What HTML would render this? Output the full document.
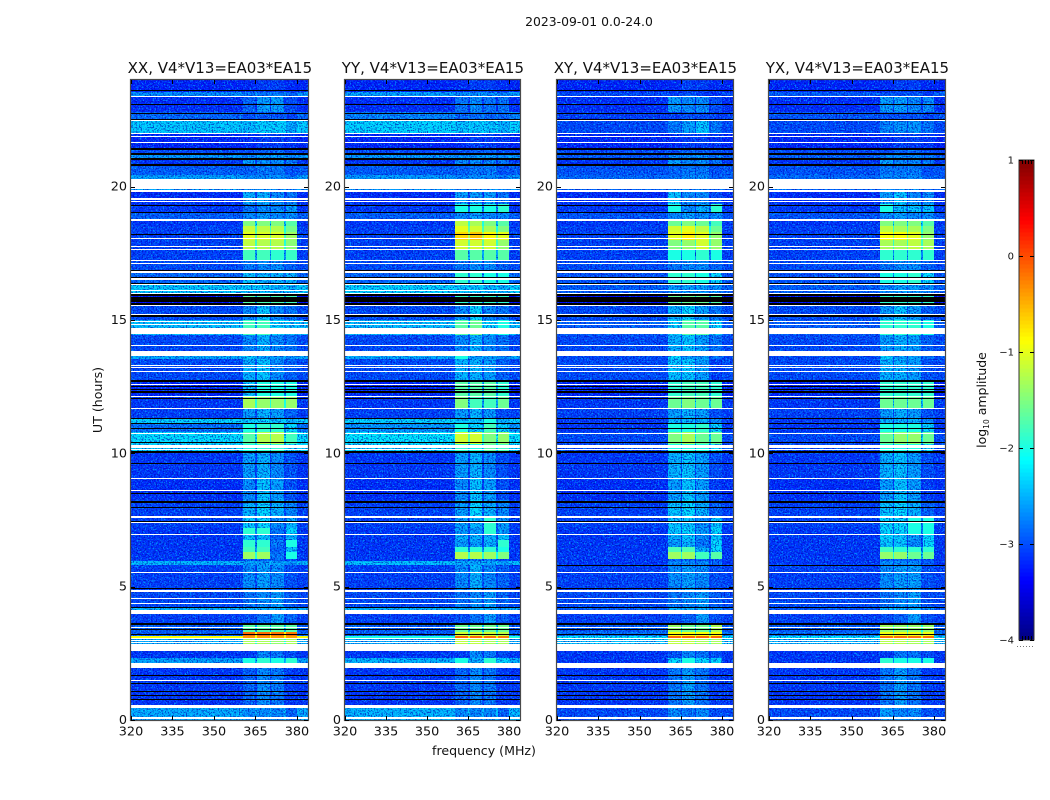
<!DOCTYPE html>
<html lang="en">
<head>
<meta charset="utf-8">
<title>2023-09-01 0.0-24.0</title>
<style>
html,body{margin:0;padding:0;background:#fff;}
#chart{display:block;width:1050px;height:800px;}
text{font-family:"DejaVu Sans","Liberation Sans",sans-serif;fill:#111;}
</style>
</head>
<body>
<svg id="chart" xmlns="http://www.w3.org/2000/svg" width="1050" height="800" viewBox="0 0 1050 800">
  <defs>
    <filter id="speckle-light" x="0" y="0" width="1" height="1" color-interpolation-filters="sRGB">
      <feTurbulence type="fractalNoise" baseFrequency="0.62" numOctaves="2" seed="7"/>
      <feColorMatrix type="matrix" values="0 0 0 0 0  0 0 0 0 0.42  0 0 0 0 0  11 0 0 0 -6.1"/>
    </filter>
    <filter id="speckle-dark" x="0" y="0" width="1" height="1" color-interpolation-filters="sRGB">
      <feTurbulence type="fractalNoise" baseFrequency="0.66" numOctaves="2" seed="23"/>
      <feColorMatrix type="matrix" values="0 0 0 0 0  0 0 0 0 0  0 0 0 0 0.7  11 0 0 0 -5.9"/>
    </filter>
  </defs>
  <rect x="0" y="0" width="1050" height="800" fill="#fff"/>
  <text x="589" y="26" font-size="12.4" text-anchor="middle">2023-09-01 0.0-24.0</text>
  <g id="panels"></g>
  <text transform="translate(102,400) rotate(-90)" font-size="12.6" text-anchor="middle">UT (hours)</text>
  <text x="484" y="755" font-size="12.6" text-anchor="middle">frequency (MHz)</text>
  <g id="colorbar"></g>
  <text transform="translate(986,400) rotate(-90)" font-size="12.5" text-anchor="middle">log<tspan font-size="7.5" dy="3">10</tspan><tspan dy="-3"> amplitude</tspan></text>
</svg>
<script>
// ---- axis data ----
const freqTicks = [320, 335, 350, 365, 380];
const hourTicks = [0, 5, 10, 15, 20];
const colorTicks = [1, 0, -1, -2, -3, -4];
const panelTitles = ['XX, V4*V13=EA03*EA15', 'YY, V4*V13=EA03*EA15', 'XY, V4*V13=EA03*EA15', 'YX, V4*V13=EA03*EA15'];
const panelNames = ['xx', 'yy', 'xy', 'yx'];
// channel edges in MHz: background, subband, gap, subband, gap, subband, gap, subband, background
const freqEdges = [320, 360.4, 365, 365.6, 370.1, 370.7, 375.3, 375.9, 380, 384];
// top edge (UT hours) of each time band; the last band ends at 0 h
const bandTops = [24.00,23.55,23.40,22.80,22.46,22.01,21.45,21.22,21.07,20.81,20.44,19.89,19.35,19.05,18.71,18.52,18.30,18.00,17.62,17.21,16.84,16.39,16.01,15.60,15.00,14.44,13.69,13.54,12.75,12.15,11.70,11.29,11.10,10.80,10.35,10.09,9.07,8.25,7.57,7.20,6.97,6.75,6.50,6.30,6.04,5.96,5.81,4.80,4.24,3.97,3.56,3.30,3.15,3.07,2.59,2.32,1.95,0.45];
// log10 amplitude per band: [background, subband 1, 2, 3, 4]
const levelsXX = [
[-3.2,-3.0,-2.9,-2.9,-3.0],[-2.65,-2.6,-2.6,-2.6,-2.65],[-3.15,-2.7,-2.4,-2.4,-2.8],[-2.85,-2.8,-2.75,-2.8,-2.85],
[-2.35,-2.25,-2.15,-2.15,-2.35],[-3.2,-3.0,-2.9,-2.9,-2.95],[-3.0,-2.8,-2.7,-2.7,-2.8],[-2.6,-2.5,-2.4,-2.4,-2.5],
[-3.1,-2.4,-2.5,-2.5,-2.6],[-2.9,-2.7,-2.6,-2.6,-2.8],[-2.55,-2.5,-2.5,-2.5,-2.6],[-3.15,-2.3,-2.3,-2.5,-2.6],
[-3.1,-2.6,-2.5,-2.5,-2.4],[-2.9,-2.5,-2.4,-2.5,-2.5],[-3.1,-1.5,-1.5,-1.5,-1.7],[-3.05,-1.15,-1.2,-1.25,-1.55],
[-3.05,-1.0,-1.05,-1.05,-1.35],[-3.05,-1.2,-1.25,-1.25,-1.45],[-3.05,-1.8,-1.8,-1.9,-1.85],[-3.0,-2.6,-2.5,-2.5,-2.7],
[-2.85,-2.2,-2.3,-2.3,-2.3],[-2.35,-2.2,-2.2,-2.3,-2.3],[-3.3,-1.7,-1.75,-1.75,-1.8],[-3.0,-2.5,-2.2,-2.5,-2.6],
[-2.4,-1.8,-1.8,-2.1,-2.2],[-3.0,-2.5,-2.3,-2.5,-2.6],[-2.5,-2.15,-2.4,-2.4,-2.5],[-3.0,-2.3,-2.2,-2.5,-2.7],
[-3.2,-2.2,-2.0,-2.0,-2.0],[-3.1,-1.3,-1.4,-1.4,-1.4],[-3.05,-2.4,-2.3,-2.4,-2.7],[-2.3,-2.2,-2.1,-2.2,-2.3],
[-2.8,-2.0,-1.9,-1.9,-2.1],[-2.25,-1.7,-1.25,-1.25,-1.8],[-2.3,-2.0,-1.9,-1.9,-2.1],[-3.1,-2.4,-2.3,-2.5,-2.8],
[-3.15,-2.5,-2.2,-2.4,-2.8],[-3.05,-2.3,-2.1,-2.3,-2.5],[-3.05,-2.2,-2.1,-2.5,-2.3],[-3.1,-1.9,-1.9,-2.6,-2.1],
[-3.1,-2.2,-2.2,-2.7,-2.3],[-3.1,-1.9,-1.9,-2.6,-2.0],[-3.1,-1.8,-1.8,-2.7,-2.2],[-3.1,-1.35,-1.35,-2.6,-2.0],
[-3.1,-2.7,-2.7,-2.7,-2.8],[-2.45,-2.4,-2.4,-2.4,-2.45],[-3.05,-2.5,-2.4,-2.5,-2.8],[-3.0,-2.6,-2.5,-2.4,-2.7],
[-2.45,-2.3,-2.3,-2.3,-2.4],[-3.05,-2.8,-2.6,-2.4,-2.7],[-2.9,-1.7,-1.7,-1.7,-1.7],[-2.9,-0.15,-0.15,-0.2,-0.2],
[-0.9,-0.4,-0.4,-0.45,-0.45],[-2.5,-1.3,-1.3,-1.4,-1.3],[-3.1,-2.9,-2.5,-2.6,-2.8],[-2.55,-2.0,-1.9,-2.0,-1.9],
[-3.1,-2.7,-2.5,-2.6,-2.9],[-2.5,-2.5,-2.5,-2.5,-2.7]];
const levelsYY = [
[-3.2,-3.0,-2.9,-2.9,-3.0],[-2.55,-2.5,-2.5,-2.5,-2.55],[-3.15,-2.6,-2.5,-2.6,-2.6],[-2.7,-2.7,-2.65,-2.7,-2.7],
[-2.3,-2.2,-2.2,-2.2,-2.3],[-3.2,-3.0,-2.9,-2.9,-2.95],[-3.0,-2.8,-2.7,-2.7,-2.8],[-2.6,-2.5,-2.4,-2.4,-2.5],
[-3.1,-2.5,-2.5,-2.5,-2.6],[-2.9,-2.7,-2.6,-2.6,-2.8],[-2.6,-2.55,-2.5,-2.5,-2.6],[-3.15,-2.4,-2.4,-2.4,-2.6],
[-3.1,-2.0,-2.0,-2.0,-1.9],[-2.9,-2.5,-2.4,-2.5,-2.5],[-3.1,-1.2,-1.3,-1.5,-1.7],[-3.05,-1.0,-1.1,-1.3,-1.5],
[-3.05,-0.7,-0.6,-0.85,-1.0],[-3.05,-1.1,-1.1,-1.1,-1.4],[-3.05,-1.7,-1.7,-1.7,-1.7],[-3.0,-2.6,-2.5,-2.5,-2.7],
[-2.85,-1.9,-1.9,-2.0,-2.0],[-2.3,-2.2,-2.2,-2.3,-2.3],[-3.3,-1.9,-1.9,-1.9,-1.9],[-3.0,-2.5,-2.1,-2.5,-2.6],
[-2.4,-1.7,-1.6,-2.1,-2.0],[-3.0,-2.5,-2.3,-2.5,-2.6],[-2.5,-2.0,-2.4,-2.4,-2.5],[-3.0,-2.3,-2.3,-2.4,-2.7],
[-3.2,-1.7,-1.7,-1.7,-1.9],[-3.1,-1.5,-1.8,-1.8,-1.6],[-3.05,-2.4,-2.3,-2.4,-2.8],[-2.3,-2.2,-2.2,-2.0,-2.3],
[-2.6,-2.0,-2.1,-1.8,-2.1],[-2.2,-1.1,-1.1,-1.5,-1.4],[-2.3,-1.9,-2.0,-1.7,-1.8],[-3.1,-2.4,-2.3,-2.5,-2.8],
[-3.15,-2.5,-2.2,-2.4,-2.8],[-3.05,-2.4,-2.1,-2.3,-2.5],[-3.05,-2.4,-2.3,-1.9,-2.4],[-3.1,-2.4,-2.4,-1.9,-2.4],
[-3.1,-2.3,-2.3,-2.3,-2.2],[-3.1,-2.4,-2.4,-2.3,-1.9],[-3.1,-1.9,-1.9,-1.9,-2.0],[-3.1,-1.25,-1.25,-1.35,-1.5],
[-3.1,-2.6,-2.6,-2.6,-2.8],[-2.4,-2.35,-2.35,-2.35,-2.4],[-3.05,-2.5,-2.3,-2.5,-2.7],[-3.0,-2.6,-2.5,-2.4,-2.7],
[-2.45,-2.3,-2.3,-2.3,-2.4],[-3.05,-2.8,-2.6,-2.4,-2.7],[-2.9,-1.6,-1.6,-1.6,-1.6],[-2.9,-1.1,-1.1,-1.1,-1.2],
[-2.0,-0.15,-0.15,-0.2,-0.25],[-2.5,-1.2,-1.2,-1.3,-1.3],[-3.1,-2.9,-2.5,-2.6,-2.8],[-2.45,-2.0,-2.3,-1.9,-2.1],
[-3.1,-2.7,-2.5,-2.6,-2.9],[-2.45,-2.5,-2.5,-2.5,-2.7]];
const levelsXY = [
[-3.2,-3.0,-2.9,-2.9,-3.0],[-3.0,-2.9,-2.8,-2.9,-3.0],[-3.15,-2.4,-2.5,-2.5,-2.8],[-3.05,-2.9,-2.8,-2.8,-2.9],
[-3.0,-2.6,-2.4,-2.2,-2.6],[-3.2,-3.0,-2.9,-2.9,-2.95],[-3.0,-2.8,-2.7,-2.7,-2.8],[-2.9,-2.5,-2.5,-2.5,-2.6],
[-3.1,-2.4,-2.5,-2.5,-2.6],[-2.95,-2.7,-2.6,-2.6,-2.8],[-2.85,-2.6,-2.5,-2.5,-2.7],[-3.15,-2.2,-2.5,-2.5,-2.8],
[-3.1,-2.0,-2.5,-2.3,-1.9],[-2.95,-2.5,-2.4,-2.5,-2.5],[-3.1,-1.6,-1.5,-1.6,-1.8],[-3.05,-1.1,-1.0,-1.2,-1.6],
[-3.05,-1.0,-0.8,-1.0,-1.4],[-3.05,-1.5,-1.4,-1.1,-1.4],[-3.05,-2.0,-2.0,-1.9,-2.0],[-3.0,-2.6,-2.5,-2.5,-2.7],
[-2.95,-1.9,-1.9,-2.0,-2.1],[-2.9,-2.4,-2.4,-2.4,-2.5],[-3.3,-1.6,-1.6,-1.6,-1.7],[-3.0,-2.3,-2.1,-2.4,-2.6],
[-2.9,-2.1,-1.7,-1.7,-2.1],[-3.0,-2.3,-2.2,-2.4,-2.6],[-3.0,-2.1,-2.4,-2.4,-2.6],[-3.0,-2.2,-2.2,-2.4,-2.9],
[-3.2,-1.9,-1.8,-1.8,-1.9],[-3.1,-1.6,-1.5,-1.6,-1.6],[-3.05,-2.4,-2.3,-2.4,-2.8],[-3.1,-2.3,-2.3,-2.3,-2.5],
[-3.1,-2.0,-2.0,-1.9,-2.1],[-3.0,-1.5,-1.3,-1.6,-1.6],[-3.0,-2.0,-2.0,-2.0,-2.1],[-3.1,-2.3,-2.2,-2.4,-2.8],
[-3.15,-2.4,-2.2,-2.4,-2.9],[-3.05,-2.2,-2.1,-2.3,-2.7],[-3.05,-2.2,-2.2,-2.5,-2.2],[-3.1,-2.2,-2.1,-2.4,-2.1],
[-3.1,-2.3,-2.2,-2.5,-2.2],[-3.1,-2.4,-2.3,-2.6,-2.1],[-3.1,-1.75,-1.75,-2.3,-2.1],[-3.1,-1.35,-1.35,-1.8,-1.7],
[-3.1,-2.7,-2.7,-2.7,-2.8],[-3.1,-2.5,-2.5,-2.5,-2.7],[-3.05,-2.5,-2.4,-2.5,-2.8],[-3.0,-2.6,-2.5,-2.4,-2.7],
[-2.9,-2.3,-2.3,-2.3,-2.5],[-3.05,-2.8,-2.7,-2.4,-2.8],[-2.9,-1.4,-1.6,-1.6,-1.3],[-2.8,-0.9,-0.9,-0.9,-0.9],
[-2.2,-0.15,-0.15,-0.15,-0.15],[-2.4,-1.2,-1.2,-1.3,-1.3],[-3.1,-2.8,-2.5,-2.6,-2.8],[-3.1,-2.1,-2.0,-2.1,-2.1],
[-3.1,-2.6,-2.4,-2.6,-2.9],[-3.0,-2.5,-2.6,-2.5,-2.8]];
const levelsYX = [
[-3.2,-3.0,-2.9,-2.9,-3.0],[-2.9,-2.8,-2.8,-2.8,-2.9],[-3.15,-2.4,-2.4,-2.5,-2.5],[-2.95,-2.8,-2.8,-2.8,-2.9],
[-3.0,-2.55,-2.45,-2.45,-2.6],[-3.2,-3.0,-2.9,-2.9,-2.95],[-3.0,-2.8,-2.7,-2.7,-2.8],[-2.9,-2.5,-2.5,-2.5,-2.6],
[-3.1,-2.4,-2.5,-2.5,-2.6],[-2.95,-2.6,-2.6,-2.6,-2.8],[-2.85,-2.5,-2.5,-2.5,-2.7],[-3.15,-2.4,-2.2,-2.5,-2.5],
[-3.1,-2.0,-2.2,-2.2,-2.2],[-2.95,-2.5,-2.4,-2.5,-2.5],[-3.1,-1.5,-1.5,-1.5,-1.7],[-3.05,-1.2,-1.3,-1.3,-1.5],
[-3.05,-0.9,-0.9,-1.0,-1.4],[-3.05,-1.3,-1.3,-1.2,-1.3],[-3.05,-1.9,-1.9,-1.9,-1.9],[-3.0,-2.6,-2.5,-2.5,-2.7],
[-2.95,-2.0,-2.0,-1.9,-2.1],[-2.9,-2.5,-2.4,-2.4,-2.5],[-3.3,-1.9,-1.9,-1.9,-1.9],[-3.0,-2.4,-2.2,-2.4,-2.7],
[-2.9,-1.9,-1.9,-1.9,-2.0],[-3.0,-2.4,-2.3,-2.4,-2.7],[-3.0,-2.1,-2.4,-2.4,-2.6],[-3.0,-2.3,-2.3,-2.4,-2.8],
[-3.2,-1.9,-1.9,-1.9,-1.9],[-3.1,-1.6,-1.6,-1.6,-1.6],[-3.05,-2.4,-2.3,-2.4,-2.8],[-3.1,-2.3,-2.3,-2.3,-2.5],
[-3.1,-2.0,-2.0,-2.0,-2.1],[-3.0,-1.6,-1.4,-1.4,-1.6],[-3.0,-2.0,-2.0,-2.0,-2.1],[-3.1,-2.3,-2.2,-2.4,-2.8],
[-3.15,-2.4,-2.2,-2.4,-2.9],[-3.05,-2.2,-2.1,-2.3,-2.7],[-3.05,-2.1,-2.1,-2.0,-2.0],[-3.1,-2.1,-2.1,-2.0,-2.0],
[-3.1,-2.1,-2.2,-2.4,-2.1],[-3.1,-2.2,-2.2,-2.5,-2.1],[-3.1,-1.8,-1.9,-1.9,-1.9],[-3.1,-1.4,-1.4,-1.6,-1.6],
[-3.1,-2.7,-2.7,-2.7,-2.8],[-3.1,-2.5,-2.5,-2.5,-2.7],[-3.05,-2.5,-2.4,-2.4,-2.8],[-3.0,-2.6,-2.5,-2.4,-2.8],
[-2.95,-2.3,-2.3,-2.3,-2.5],[-3.05,-2.8,-2.7,-2.4,-2.8],[-2.9,-1.35,-1.4,-1.4,-1.4],[-2.8,-0.95,-0.95,-0.95,-0.95],
[-2.2,-0.2,-0.2,-0.2,-0.2],[-2.45,-1.25,-1.25,-1.3,-1.3],[-3.1,-2.9,-2.6,-2.6,-2.8],[-3.1,-1.9,-2.0,-2.0,-2.0],
[-3.1,-2.6,-2.4,-2.6,-2.9],[-3.0,-2.4,-2.5,-2.5,-2.8]];
const panelLevels = [levelsXX, levelsYY, levelsXY, levelsYX];
// flagged (blank) time ranges [start, end] in UT hours
const flaggedRanges = [[23.40,23.36],[22.50,22.46],[22.01,21.98],[21.90,21.86],[21.68,21.64],[20.27,19.89],[19.86,19.78],[19.58,19.51],[19.48,19.44],[18.77,18.71],[18.09,18.04],[17.79,17.74],[17.66,17.62],[17.25,17.20],[17.14,17.09],[16.82,16.74],[16.58,16.50],[16.36,16.31],[16.14,16.10],[16.03,15.99],[15.56,15.52],[15.21,15.17],[14.96,14.92],[14.85,14.81],[14.71,14.50],[14.06,14.02],[13.85,13.68],[13.33,13.29],[13.24,13.20],[13.10,13.06],[12.60,12.56],[12.15,12.11],[11.70,11.66],[10.78,10.75],[10.32,10.20],[10.16,10.12],[9.07,9.04],[8.64,8.61],[7.65,7.59],[7.44,7.40],[6.99,6.96],[5.55,5.51],[4.89,4.81],[4.56,4.52],[4.40,4.35],[4.13,3.97],[3.47,3.43],[3.06,3.02],[3.00,2.96],[2.92,2.89],[2.85,2.60],[2.15,1.97],[1.50,1.46],[0.56,0.45],[0.10,0.02]];
// dropped (zero amplitude) time ranges [start, end] in UT hours
const dropoutRanges = [[23.64,23.61],[23.10,23.06],[22.78,22.73],[22.54,22.50],[21.46,21.40],[21.25,21.19],[21.06,21.00],[20.85,20.79],[19.32,19.30],[19.06,19.02],[18.24,18.21],[16.89,16.82],[16.62,16.58],[16.40,16.36],[15.99,15.92],[15.88,15.82],[15.79,15.73],[15.71,15.66],[15.64,15.58],[15.17,15.09],[12.75,12.68],[12.52,12.49],[12.43,12.40],[12.32,12.26],[12.09,12.06],[11.31,11.28],[11.12,11.09],[10.95,10.91],[10.43,10.39],[10.09,10.02],[9.64,9.60],[8.53,8.50],[8.21,8.15],[7.97,7.94],[7.46,7.44],[4.96,4.92],[4.24,4.21],[3.65,3.59],[3.43,3.40],[3.23,3.19],[1.97,1.94],[1.69,1.65],[1.37,1.34],[1.09,1.06],[0.94,0.91],[0.78,0.75]];
// extra dropouts seen only in the cross-hand panels
const crossDropoutRanges = [[5.81,5.78]];

// ---- layout ----
const frames = [{l:131,r:308},{l:345,r:520},{l:557,r:733},{l:769,r:945}];
const plotTop = 80, plotBottom = 720;
const hourMax = 24, freqMin = 320, freqMax = 384;
const barLeft = 1019, barRight = 1034, barTop = 160, barBottom = 640;
const levelMin = -4, levelMax = 1;
const solidThreshold = -2.05;
const svgNS = 'http://www.w3.org/2000/svg';

function yScale(h){ return plotBottom - (h / hourMax) * (plotBottom - plotTop); }
function xScale(frame, f){ return frame.l + (f - freqMin) / (freqMax - freqMin) * (frame.r - frame.l); }
function levelScale(v){ return barBottom - (v - levelMin) / (levelMax - levelMin) * (barBottom - barTop); }
function clip01(v){ return Math.max(0, Math.min(1, v)); }
function jet(v){
  const t = clip01((v - levelMin) / (levelMax - levelMin));
  const r = clip01(1.5 - Math.abs(4 * t - 3));
  const g = clip01(1.5 - Math.abs(4 * t - 2));
  const b = clip01(1.5 - Math.abs(4 * t - 1));
  return 'rgb(' + Math.round(r * 255) + ',' + Math.round(g * 255) + ',' + Math.round(b * 255) + ')';
}
function make(tag, parent, geometry){
  const el = document.createElementNS(svgNS, tag);
  for (const k in geometry) el.setAttribute(k, geometry[k]);
  parent.appendChild(el);
  return el;
}
function meanSpeckled(v){ return v < solidThreshold ? v - 0.2 : v; }
function channelLevel(row, col){
  const bg = row[0];
  if (col === 0 || col === 8) return bg < solidThreshold ? bg - 0.03 : bg;
  if (col % 2 === 1) return meanSpeckled(row[(col + 1) / 2]);
  const left = row[col / 2], right = row[col / 2 + 1];
  return Math.max(bg, meanSpeckled((left + right) / 2 - 0.6));
}

const panelsGroup = document.getElementById('panels');
frames.forEach(function(frame, p){
  const name = panelNames[p];
  const g = make('g', panelsGroup, {});
  
  

  const cells = make('g', g, {'shape-rendering': 'crispEdges'});
  
  

  const light = make('rect', g, {x: frame.l, y: plotTop, width: frame.r - frame.l, height: plotBottom - plotTop, filter: 'url(#speckle-light)', style: 'mix-blend-mode:screen'});
  
  
  const dark = make('rect', g, {x: frame.l, y: plotTop, width: frame.r - frame.l, height: plotBottom - plotTop, filter: 'url(#speckle-dark)', opacity: 0.6});
  
  

  const solid = make('g', g, {'shape-rendering': 'crispEdges'});
  
  

  const levels = panelLevels[p];
  bandTops.forEach(function(top, b){
    const bottom = b + 1 < bandTops.length ? bandTops[b + 1] : 0;
    const y0 = Math.round(yScale(top)), y1 = Math.round(yScale(bottom));
    for (let c = 0; c < freqEdges.length - 1; c++){
      const x0 = Math.round(xScale(frame, freqEdges[c])), x1 = Math.round(xScale(frame, freqEdges[c + 1]));
      const level = channelLevel(levels[b], c);
      const layer = level > solidThreshold ? solid : cells;
      const cell = make('rect', layer, {x: x0, y: y0, width: x1 - x0, height: y1 - y0, fill: jet(level)});
      
      
    }
  });

  const marks = make('g', g, {'shape-rendering': 'crispEdges'});
  
  
  let drops = dropoutRanges;
  if (p >= 2) drops = dropoutRanges.concat(crossDropoutRanges);
  drops.forEach(function(range){
    const row = make('rect', marks, {x: frame.l, y: Math.round(yScale(range[0])), width: frame.r - frame.l, height: Math.max(1, Math.round(yScale(range[1]) - yScale(range[0]))), fill: '#000'});
    
    
  });
  flaggedRanges.forEach(function(range){
    const row = make('rect', marks, {x: frame.l, y: Math.round(yScale(range[0])), width: frame.r - frame.l, height: Math.max(1, Math.round(yScale(range[1]) - yScale(range[0]))), fill: '#fff'});
    
    
  });

  const box = make('rect', g, {x: frame.l - 0.5, y: plotTop - 0.5, width: frame.r - frame.l + 1, height: plotBottom - plotTop + 1, fill: 'none', stroke: '#4a4a4a', 'stroke-width': 1.2});
  
  

  freqTicks.forEach(function(f){
    const x = Math.round(xScale(frame, f)) + 0.5;
    const t1 = make('line', g, {x1: x, x2: x, y1: plotBottom, y2: plotBottom - 4, stroke: '#000', 'stroke-width': 1});
    
    
    const t2 = make('line', g, {x1: x, x2: x, y1: plotTop, y2: plotTop + 4, stroke: '#000', 'stroke-width': 1});
    
    
    const label = make('text', g, {x: xScale(frame, f), y: 735.5, 'font-size': 12.8, 'text-anchor': 'middle'});
    
    
    label.textContent = f;
  });
  hourTicks.forEach(function(h){
    const y = Math.round(yScale(h)) + 0.5;
    const t1 = make('line', g, {x1: frame.l, x2: frame.l + 4, y1: y, y2: y, stroke: '#000', 'stroke-width': 1});
    
    
    const t2 = make('line', g, {x1: frame.r, x2: frame.r - 4, y1: y, y2: y, stroke: '#000', 'stroke-width': 1});
    
    
    const label = make('text', g, {x: frame.l - 4, y: yScale(h) + 4, 'font-size': 12.8, 'text-anchor': 'end'});
    
    
    label.textContent = h;
  });
  const title = make('text', g, {x: (frame.l + frame.r) / 2 + 0.4, y: 73, 'font-size': 15, 'text-anchor': 'middle'});
  
  
  title.textContent = panelTitles[p];
});

// ---- colorbar ----
const barGroup = document.getElementById('colorbar');
const barSteps = 120;
for (let i = 0; i < barSteps; i++){
  const v0 = levelMin + (levelMax - levelMin) * i / barSteps;
  const v1 = levelMin + (levelMax - levelMin) * (i + 1) / barSteps;
  const seg = make('rect', barGroup, {x: barLeft, y: levelScale(v1), width: barRight - barLeft, height: levelScale(v0) - levelScale(v1) + 0.5, fill: jet((v0 + v1) / 2)});
  
  
}
const barBox = make('rect', barGroup, {x: barLeft, y: barTop, width: barRight - barLeft, height: barBottom - barTop, fill: 'none', stroke: '#333', 'stroke-width': 1});


colorTicks.forEach(function(v){
  const y = Math.round(levelScale(v)) + 0.5;
  const t1 = make('line', barGroup, {x1: barLeft, x2: barLeft + 4, y1: y, y2: y, stroke: '#000', 'stroke-width': 1});
  
  
  const t2 = make('line', barGroup, {x1: barRight - 4, x2: barRight, y1: y, y2: y, stroke: '#000', 'stroke-width': 1});
  
  
  const label = make('text', barGroup, {x: barLeft - 5, y: levelScale(v) + 3.5, 'font-size': 10, 'text-anchor': 'end'});
  
  
  label.textContent = String(v).replace('-', '\u2212');
});
[barTop, barBottom].forEach(function(edge){
  const dir = edge === barTop ? 1 : -1;
  for (let x = barLeft + 3; x < barRight - 1; x += 3){
    const m = make('line', barGroup, {x1: x + 0.5, x2: x + 0.5, y1: edge, y2: edge + dir * 4, stroke: '#000', 'stroke-width': 1});
    
    
  }
});
const dots = make('line', barGroup, {x1: 1017, x2: 1035, y1: 646.5, y2: 646.5, stroke: '#777', 'stroke-width': 1, 'stroke-dasharray': '1 2'});


</script>
</body>
</html>
